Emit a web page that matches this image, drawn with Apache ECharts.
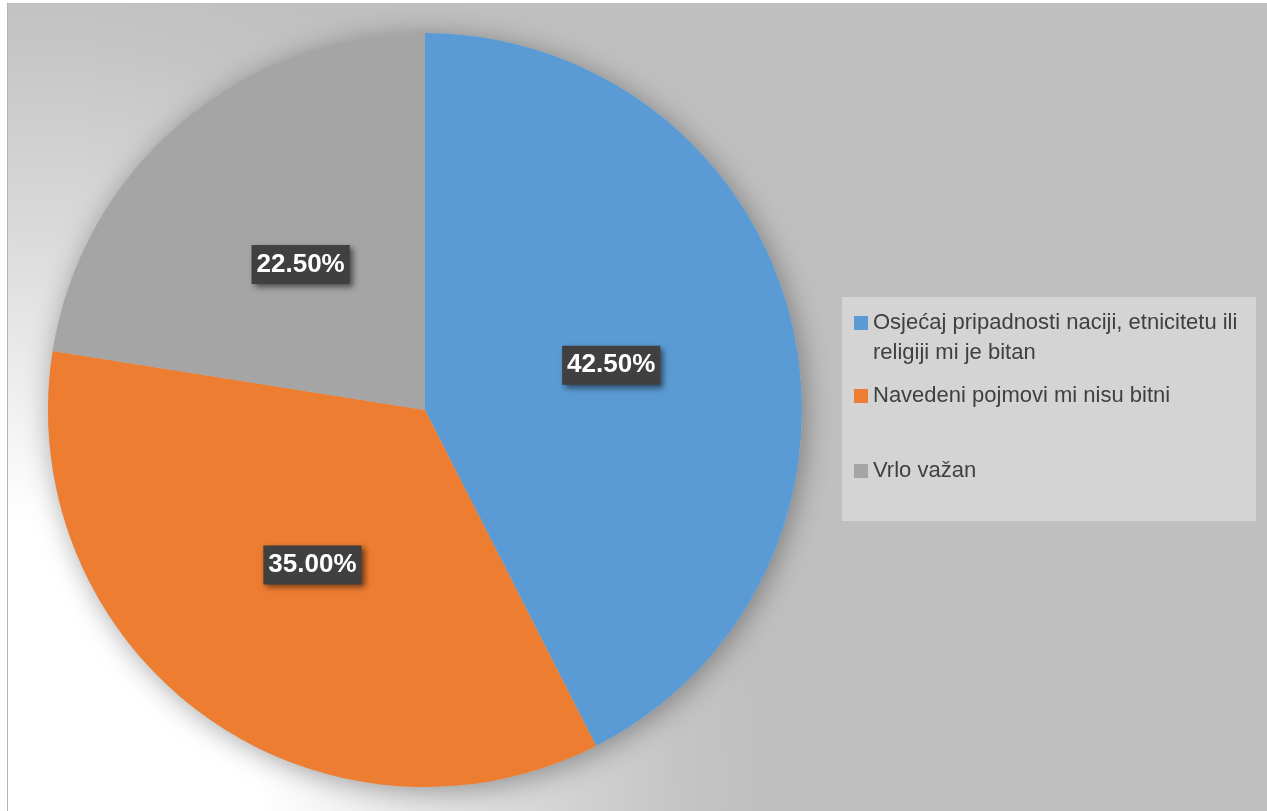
<!DOCTYPE html>
<html>
<head>
<meta charset="utf-8">
<script src="https://cdn.jsdelivr.net/npm/echarts@6/dist/echarts.min.js"></script>
<style>
  html, body { margin: 0; padding: 0; background: #ffffff; width: 1267px; height: 811px; overflow: hidden; }
  #chart {
    position: absolute; left: 7px; top: 3px; width: 1260px; height: 808px;
    border-left: 1px solid #b4b4b4;
    background: radial-gradient(ellipse 760px 880px at 0 100%, #ffffff 0%, #ffffff 33%, #dadada 66%, #c4c4c4 89%, #bfbfbf 100%);
  }
</style>
</head>
<body>
<div id="chart"></div>
<script>
const categories = [
  'Osjećaj pripadnosti naciji, etnicitetu ili\nreligiji mi je bitan',
  'Navedeni pojmovi mi nisu bitni',
  'Vrlo važan'
];
const values = [42.5, 35.0, 22.5];
const colors = ['#5b9bd5', '#ed7d31', '#a5a5a5'];

const chart = echarts.init(document.getElementById('chart'), null, { renderer: 'canvas' });

const pieCenter = [417, 407];
const pieRadius = 377;

const legendText = { fontFamily: 'Liberation Sans, Arial, sans-serif', fontSize: 22, color: '#404040', lineHeight: 30 };

function legendAt(i, top, fmt) {
  const l = {
    data: [categories[i]], left: 846, top: top, orient: 'vertical', padding: 0,
    icon: 'rect', itemWidth: 14, itemHeight: 14, itemGap: 0,
    textStyle: legendText
  };
  if (fmt) l.formatter = fmt;
  return l;
}

const option = {
  backgroundColor: 'transparent',
  animation: false,
  color: colors,
  graphic: [{
    type: 'rect', left: 834, top: 294, z: -1,
    shape: { width: 414, height: 224 },
    style: { fill: '#d4d4d4' }
  }],
  legend: [
    legendAt(0, 275, name => '\n' + name),
    legendAt(1, 378),
    legendAt(2, 453)
  ],
  series: [
    {
      name: 'shadow', type: 'pie', silent: true, center: pieCenter, radius: pieRadius,
      startAngle: 90, clockwise: true, label: { show: false }, labelLine: { show: false },
      z: 1,
      data: [{ value: 1, name: '__shadow__', itemStyle: { color: '#bdbdbd', shadowBlur: 28, shadowColor: 'rgba(0,0,0,0.35)', shadowOffsetX: 3, shadowOffsetY: 4 } }],
      legendHoverLink: false
    },
    {
      name: 'main', type: 'pie', center: pieCenter, radius: pieRadius,
      startAngle: 90, clockwise: true, z: 2,
      data: categories.map((c, i) => ({ name: c, value: values[i] })),
      itemStyle: { borderWidth: 0 },
      label: {
        show: true, position: 'inside',
        formatter: p => p.value.toFixed(2) + '%',
        fontFamily: 'Liberation Sans, Arial, sans-serif', fontSize: 26, fontWeight: 'bold',
        color: '#ffffff', backgroundColor: '#404040',
        padding: [5, 5, 4, 5], lineHeight: 30,
        shadowColor: 'rgba(0,0,0,0.55)', shadowBlur: 6, shadowOffsetX: 3, shadowOffsetY: 3
      },
      labelLine: { show: false }
    }
  ]
};
chart.setOption(option);
</script>
</body>
</html>
